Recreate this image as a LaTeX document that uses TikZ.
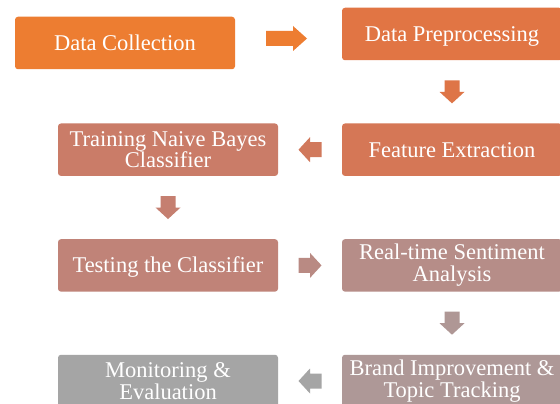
\documentclass[tikz,border=0pt]{standalone}
\usepackage{fontspec}
\setmainfont{Liberation Serif}
\usetikzlibrary{calc}

% step colours, orange fading to grey
\definecolor{b1}{RGB}{237,125,49}
\definecolor{b2}{RGB}{225,117,68}
\definecolor{b3}{RGB}{213,119,86}
\definecolor{b4}{RGB}{202,124,104}
\definecolor{b5}{RGB}{192,131,120}
\definecolor{b6}{RGB}{182,141,136}
\definecolor{b7}{RGB}{174,152,151}
\definecolor{b8}{RGB}{165,165,165}
% connector colours
\definecolor{a1}{RGB}{237,125,49}
\definecolor{a2}{RGB}{222,117,71}
\definecolor{a3}{RGB}{209,121,92}
\definecolor{a4}{RGB}{197,127,112}
\definecolor{a5}{RGB}{185,138,131}
\definecolor{a6}{RGB}{175,151,149}
\definecolor{a7}{RGB}{165,165,165}

\begin{document}
\begin{tikzpicture}[x=1pt,y=-1pt,
  stepbox/.style={rounded corners=3pt, minimum width=220pt, minimum height=52.5pt,
    inner sep=0pt, align=center, text=white,
    font=\fontsize{22.5}{21.6}\selectfont},
  % single-line labels sit on the full line box of the font
  oneline/.style={text height=20pt, text depth=4.9pt},
  % block arrow pointing right: #1 = total length, #2 = head length
  pics/blockarrow/.style n args={2}{code={
    \fill[pic actions] (-#1/2,-7.5) -- (#1/2-#2,-7.5) -- (#1/2-#2,-12.5) -- (#1/2,0)
      -- (#1/2-#2,12.5) -- (#1/2-#2,7.5) -- (-#1/2,7.5) -- cycle;
  }}]
\useasboundingbox (0,0) rectangle (560,404);
\fill[white] (0,0) rectangle (560,404);
\clip (0,0) rectangle (560,404);

% process steps
\node[stepbox, oneline, fill=b1] (dc)    at (125,43)    {Data Collection};
\node[stepbox, oneline, fill=b2] (dp)    at (452,34)    {Data Preprocessing};
\node[stepbox, oneline, fill=b3] (fe)    at (452,149.7) {Feature Extraction};
\node[stepbox, fill=b4] (train) at (168,149.7) {Training Naive Bayes\\Classifier};
\node[stepbox, oneline, fill=b5] (test)  at (168,265.4) {Testing the Classifier};
\node[stepbox, fill=b6] (rt)    at (452,265.4) {Real-time Sentiment\\Analysis};
\node[stepbox, fill=b7] (brand) at (452,381)   {Brand Improvement \&\\Topic Tracking};
\node[stepbox, fill=b8] (mon)   at (168,381)   {Monitoring \&\\Evaluation};

% connectors between steps
\pic[fill=a1] at ($(dc.east)!0.5!(dp.west)+(-2,0)$) {blockarrow={41}{14}};
\pic[fill=a2, rotate=-90] at ($(dp.south)!0.5!(fe.north)$) {blockarrow={23}{11.5}};
\pic[fill=a3, rotate=180] at ($(fe.west)!0.5!(train.east)$) {blockarrow={23}{11.5}};
\pic[fill=a4, rotate=-90] at ($(train.south)!0.5!(test.north)$) {blockarrow={23}{11.5}};
\pic[fill=a5] at ($(test.east)!0.5!(rt.west)$) {blockarrow={23}{11.5}};
\pic[fill=a6, rotate=-90] at ($(rt.south)!0.5!(brand.north)$) {blockarrow={23}{11.5}};
\pic[fill=a7, rotate=180] at ($(brand.west)!0.5!(mon.east)$) {blockarrow={23}{11.5}};
\end{tikzpicture}
\end{document}
